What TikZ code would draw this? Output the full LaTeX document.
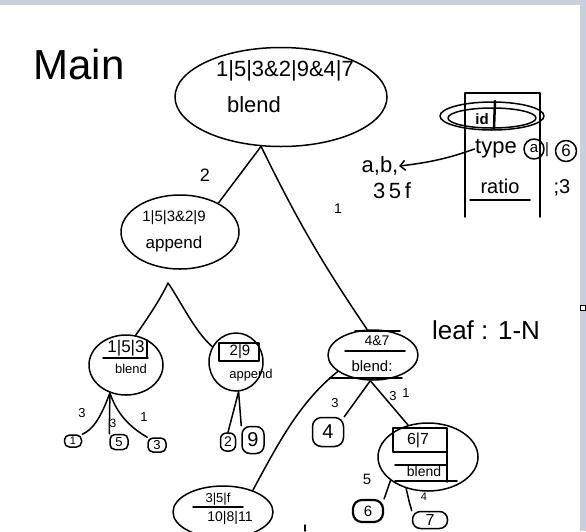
\documentclass[tikz,border=0pt]{standalone}
\usepackage{fontspec}
\setmainfont{Liberation Sans}
\usetikzlibrary{shapes.geometric,arrows.meta}
\definecolor{barblue}{RGB}{200,208,222}
\newcommand{\fs}[1]{\fontsize{#1}{#1}\selectfont}
\begin{document}
\begin{tikzpicture}[x=1pt,y=-1pt, line width=1.5pt, line cap=round, line join=round,
  ell/.style={draw, ellipse, inner sep=0pt},
  lf/.style={draw, rounded corners=5pt, inner sep=0pt},
  lab/.style={inner sep=0pt}]
\useasboundingbox (0,0) rectangle (586,531);
\fill[white] (0,0) rectangle (586,531);
\fill[barblue] (0,0) rectangle (586,5);
\fill[barblue] (580,5) rectangle (586,531);
\draw[line width=0.6pt, fill=white] (580.5,305) rectangle (585,310);

% title
\node[lab, font=\fs{42}] (title) at (79,64) {Main};

% root
\node[ell, minimum width=212, minimum height=99] (root) at (281,97) {};
\node[lab, font=\fs{22}] (rootk) at (285,71) {1|5|3\&2|9\&4|7};
\node[lab, font=\fs{22}] (rootb) at (254,105) {blend};

% append
\node[ell, minimum width=118, minimum height=74] (app) at (180,232) {};
\node[lab, font=\fs{15}] (appk) at (174,218) {1|5|3\&2|9};
\node[lab, font=\fs{17}] (appb) at (174,244) {append};
\coordinate (appv) at (168,283);

% 1|5|3 blend
\node[ell, minimum width=74, minimum height=60] (n153) at (126,365) {};
\node[lab, font=\fs{17}] (n153k) at (126,348) {1|5|3};
\draw (103,358) -- (148,358);
\draw (147,340) -- (147,358);
\node[lab, font=\fs{13}] (n153b) at (131,369) {blend};

% 2|9 append
\node[ell, minimum width=54, minimum height=58] (n29) at (236,362) {};
\draw (219,343) rectangle (259,361);
\node[lab, font=\fs{15}] (n29k) at (240,352) {2|9};
\node[lab, font=\fs{13}] (n29b) at (251,375) {append};

% 4&7 blend
\node[ell, minimum width=90, minimum height=50] (n47) at (373,355) {};
\draw (355,331) -- (400,331);
\node[lab, font=\fs{14}] (n47k) at (377,341) {4\&7};
\draw (345,351) -- (405,351);
\node[lab, font=\fs{15}] (n47b) at (372,366) {blend:};
\draw (330,378) -- (402,378);

% 6|7 blend
\node[ell, minimum width=100, minimum height=68] (n67) at (428,457) {};
\draw (393,428) rectangle (447,452);
\node[lab, font=\fs{16}] (n67k) at (418,440) {6|7};
\draw (395,465) -- (447,465);
\draw (395,481) -- (457,481);
\draw (447,452) -- (447,482);
\node[lab, font=\fs{14}] (n67b) at (424,471) {blend};

% 3|5|f node
\node[ell, minimum width=100, minimum height=52] (n35f) at (223,512) {};
\node[lab, font=\fs{13}] (n35fk) at (218,499) {3|5|f};
\draw (193,507) -- (243,507);
\node[lab, font=\fs{14}] (n35fb) at (230,518) {10|8|11};

% leaves
\node[lf, minimum width=17, minimum height=12, font=\fs{11}] (l1) at (73,441) {1};
\node[lf, minimum width=18, minimum height=15, font=\fs{13}] (l5) at (119,442) {5};
\node[lf, minimum width=18, minimum height=14, font=\fs{13}] (l3) at (157,445) {3};
\node[lf, minimum width=15, minimum height=18, rounded corners=6pt, font=\fs{14}] (l2) at (228,442) {2};
\node[lf, minimum width=22, minimum height=27, rounded corners=8pt, font=\fs{20}] (l9) at (253,440) {9};
\node[lf, minimum width=31, minimum height=29, rounded corners=9pt, font=\fs{20}] (l4) at (328,432) {4};
\node[lf, line width=2.2pt, minimum width=30, minimum height=22, rounded corners=9pt, font=\fs{15}] (l6) at (368,511) {6};
\node[lf, minimum width=35, minimum height=17, rounded corners=8pt, font=\fs{16}] (l7) at (430,520) {7};

% connectors
\draw (root.248) -- (app.37);
\draw (root.248) to[bend right=4] (n47.103);
\draw (appv) .. controls (160,300) and (145,322) .. (n153.72);
\draw (appv) .. controls (180,300) and (195,332) .. (n29.147);
\draw (n153.240) .. controls (100,420) and (92,430) .. (l1.north east);
\draw (n153.240) -- (l5.north west);
\draw (n153.240) .. controls (118,418) and (135,430) .. (l3.north west);
\draw (n29.275) -- (l2.north);
\draw (n29.275) -- (l9.north west);
\draw (n47.264) -- (l4.north east);
\draw (n47.264) -- (n67.122);
\draw (n47.205) .. controls (300,402) and (280,440) .. (n35f.36);
\draw (n67.212) -- (l6.north east);
\draw (n67.235) .. controls (410,505) .. (l7.north west);

% edge labels
\node[lab, font=\fs{18}] (e2) at (205,175) {2};
\node[lab, font=\fs{14}] (e1) at (338,209) {1};
\node[lab, font=\fs{13}] (ea) at (82,413) {3};
\node[lab, font=\fs{12}] (eb) at (113,423) {3};
\node[lab, font=\fs{13}] (ec) at (144,417) {1};
\node[lab, font=\fs{13}] (ed) at (335,403) {3};
\node[lab, font=\fs{13}] (ee) at (393,396) {3};
\node[lab, font=\fs{13}] (ef) at (406,393) {1};
\node[lab, font=\fs{15}] (eg) at (367,479) {5};
\node[lab, font=\fs{11}] (eh) at (424,497) {4};
\draw (305,525) -- (305,531);

% legend
\draw (465,217) -- (465,93) -- (540,93) -- (540,217);
\node[ell, minimum width=104, minimum height=28] (idell) at (492,116) {};
\node[ell, minimum width=88, minimum height=20] (idell2) at (492,118) {};
\node[lab, font=\bfseries\fs{15}] (id) at (482,119) {id};
\draw[line width=2.5pt] (495,101) -- (494,128);
\node[lab, font=\fs{22}] (type) at (496,149) {type};
\node[draw, circle, inner sep=0pt, minimum size=20, font=\fs{15}] (ca) at (534,149) {a};
\node[lab, font=\fs{15}] (cbar) at (547,150) {|};
\node[draw, circle, inner sep=0pt, minimum size=21, font=\fs{17}] (c6) at (566,151) {6};
\node[lab, font=\fs{20}] (ratio) at (500,186) {ratio};
\draw (470,200) -- (530,200);
\node[lab, font=\fs{20}] (r3) at (562,188) {;3};
\node[lab, font=\fs{22}] (ab) at (380,166) {a,b,};
\node[lab, font=\fs{22}] (jsf) at (392,191) {3\,5\,f};
\draw[-{Straight Barb[length=5pt]}] (type.west) .. controls (455,156) and (435,162) .. (ab.east);

% leaf legend
\node[lab, font=\fs{26}] (leafnote) at (486,330) {leaf : 1-N};
\end{tikzpicture}
\end{document}
